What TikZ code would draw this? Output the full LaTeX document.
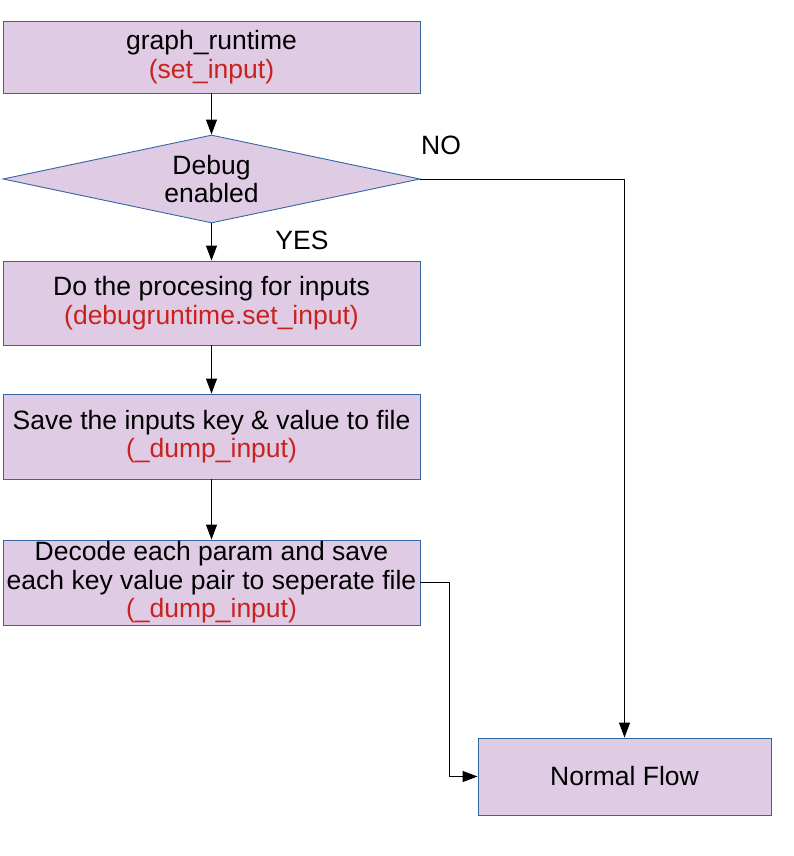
\documentclass[tikz,border=0pt]{standalone}
\usepackage{fontspec}
\setmainfont{Liberation Sans}
\usetikzlibrary{shapes.geometric,arrows.meta}
\definecolor{boxfill}{RGB}{224,203,228}
\definecolor{boxline}{RGB}{52,101,164}
\definecolor{fnred}{RGB}{201,33,30}
\tikzset{
  box/.style={draw=boxline,fill=boxfill,line width=0.9pt,minimum width=417pt,
    inner sep=0pt,align=center,font=\fontsize{26.5}{28.5}\selectfont},
  flow/.style={line width=1pt,-{Triangle[length=15pt,width=11pt]}},
  tag/.style={font=\fontsize{26.5}{28.5}\selectfont},
}
\newcommand{\fname}[1]{\textcolor{fnred}{#1}}

\begin{document}
\begin{tikzpicture}[x=1pt,y=-1pt]
\useasboundingbox (0,0) rectangle (794,856);
\node[box,minimum height=72pt] (runtime) at (211.5,57) {graph\_runtime\\\fname{(set\_input)}};
\node[box,diamond,minimum height=88pt] (debug) at (211.5,179) {};
\node[tag,align=center] (debugtext) at (debug.center) {Debug\\enabled};
\node[box,minimum height=84pt] (process) at (211.5,303) {Do the procesing for inputs\\\fname{(debugruntime.set\_input)}};
\node[box,minimum height=85pt] (save) at (211.5,436.5) {Save the inputs key \& value to file\\\fname{(\_dump\_input)}};
\node[box,minimum height=85pt] (decode) at (211.5,582.5) {Decode each param and save\\each key value pair to seperate file\\\fname{(\_dump\_input)}};
\node[box,minimum width=293pt,minimum height=77pt] (normal) at (624.5,776.5) {Normal Flow};

% main chain
\draw[flow] (runtime) -- (debug);
\draw[flow] (debug) -- (process);
\draw[flow] (process) -- (save);
\draw[flow] (save) -- (decode);

% side branches
\draw[flow] (debug.east) -| (normal.north);
\draw[flow] (decode.east) -- (449,582.5) |- (normal.west);

% labels
\node[tag] (no) at (441,145) {NO};
\node[tag] (yes) at (302,240) {YES};
\end{tikzpicture}
\end{document}
